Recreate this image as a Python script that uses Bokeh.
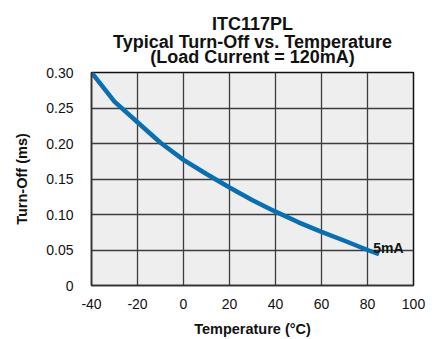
from bokeh.plotting import figure
from bokeh.models import Label, FixedTicker, Range1d, Title
from bokeh.embed import file_html
from bokeh.resources import INLINE

temps = [-40, -30, -20, -10, 0, 10, 20, 30, 40, 50, 60, 70, 80, 85]
turn_off = [0.300, 0.259, 0.230, 0.201, 0.177, 0.157, 0.138, 0.120, 0.104, 0.089, 0.0755, 0.063, 0.050, 0.044]
x_ticks = [-40, -20, 0, 20, 40, 60, 80, 100]
x_tick_labels = ["-40", "-20", "0", "20", "40", "60", "80", "100"]
y_ticks = [0, 0.05, 0.10, 0.15, 0.20, 0.25, 0.30]
y_tick_labels = ["0", "0.05", "0.10", "0.15", "0.20", "0.25", "0.30"]
title_lines = ["ITC117PL", "Typical Turn-Off vs. Temperature", "(Load Current = 120mA)"]
series_label = "5mA"

FONT = "Liberation Sans"
W, H = 442, 339

p = figure(width=W, height=H, output_backend="svg", toolbar_location=None,
           x_range=Range1d(-40, 100), y_range=Range1d(0, 0.30),
           min_border_left=91, min_border_right=29, min_border_top=72, min_border_bottom=52)
p.title = None
standoffs = [12, -24, 11]
for line, so in reversed(list(zip(title_lines, standoffs))):
    p.add_layout(Title(text=line, align="center", text_font=FONT, text_font_size="18px",
                       text_font_style="bold", text_color="#111111", standoff=so), "above")
p.background_fill_color = "#eeeeee"
p.border_fill_color = "white"
p.outline_line_color = "#111111"
p.outline_line_width = 1.5

p.xaxis.ticker = FixedTicker(ticks=x_ticks)
p.yaxis.ticker = FixedTicker(ticks=y_ticks)
p.xaxis.major_label_overrides = {t: l for t, l in zip(x_ticks, x_tick_labels)}
p.yaxis.major_label_overrides = {t: l for t, l in zip(y_ticks, y_tick_labels)}
for ax in (p.xaxis, p.yaxis):
    ax.major_tick_line_color = None
    ax.minor_tick_line_color = None
    ax.axis_line_color = "#333333"
    ax.axis_line_width = 1.5
    ax.major_label_text_font = FONT
    ax.major_label_text_font_size = "14px"
    ax.major_label_text_color = "#111111"
    ax.axis_label_text_font = FONT
    ax.axis_label_text_font_size = "14.5px"
    ax.axis_label_text_font_style = "bold"
    ax.axis_label_text_color = "#111111"
p.xaxis.major_label_standoff = 7
p.yaxis.major_label_standoff = 12
p.xaxis.axis_label = "Temperature (°C)"
p.yaxis.axis_label = "Turn-Off (ms)"
p.xaxis.axis_label_standoff = 9
p.yaxis.axis_label_standoff = 13

p.xgrid.grid_line_color = "#3c3c3c"
p.ygrid.grid_line_color = "#3c3c3c"
p.xgrid.grid_line_width = 1.3
p.ygrid.grid_line_width = 1.3

p.line(temps, turn_off, line_color="#0a6fb0", line_width=4.5)

p.add_layout(Label(x=82.5, y=0.0523, text=series_label, text_font=FONT, text_font_size="14px",
                   text_font_style="bold", text_color="#111111", text_baseline="alphabetic"))

open("out.html", "w").write(file_html(p, INLINE))
